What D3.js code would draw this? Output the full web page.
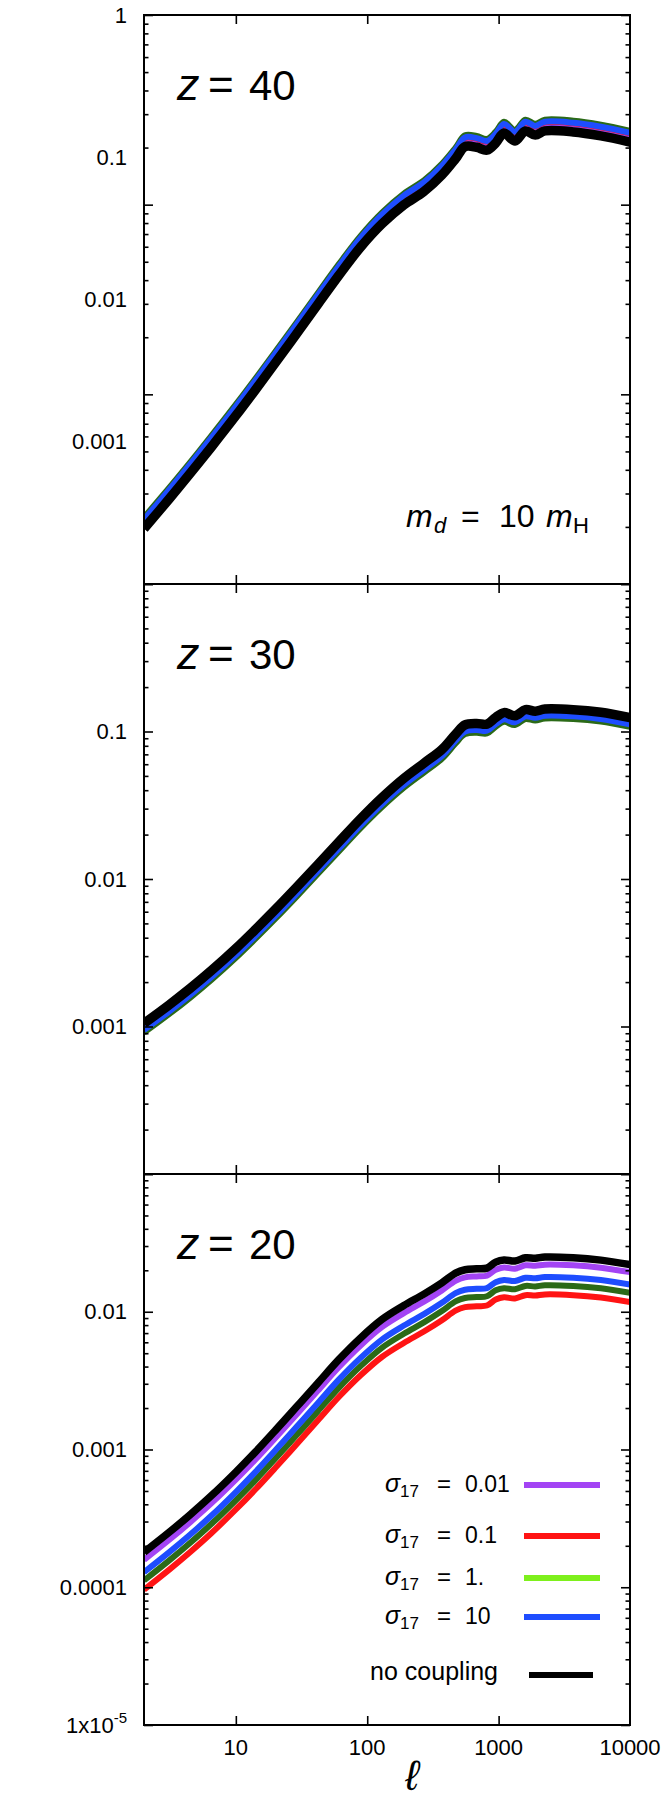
<!DOCTYPE html>
<html>
<head>
<meta charset="utf-8">
<script src="https://cdn.jsdelivr.net/npm/d3@7"></script>
<style>
  body { margin: 0; background: #fff; }
  svg { display: block; }
</style>
</head>
<body>
<svg id="chart" width="665" height="1804"></svg>
<script>
// multipole grid shared by all curves
const ell = [2, 3.1, 4.5, 6.5, 10, 14, 20, 29, 42, 61, 89, 130, 190, 270, 370, 470, 555, 680, 815, 950, 1100, 1330, 1600, 1900, 2250, 3700, 6000, 10000];

// z = 40
const z40Purple = [2.70e-4, 4.35e-4, 6.6e-4, 1.008e-3, 1.676e-3, 2.53e-3, 3.949e-3, 6.314e-3, 0.01015, 0.01631, 0.02566, 0.03753, 0.05086, 0.06314, 0.0825, 0.1073, 0.1308, 0.1293, 0.1234, 0.1385, 0.1627, 0.143, 0.1684, 0.1575, 0.1684, 0.1658, 0.1554, 0.1408];
const z40Red    = [2.82e-4, 4.54e-4, 6.9e-4, 1.053e-3, 1.753e-3, 2.645e-3, 4.129e-3, 6.601e-3, 0.01061, 0.01705, 0.02683, 0.03924, 0.05318, 0.06601, 0.08625, 0.1121, 0.1367, 0.1351, 0.129, 0.1448, 0.1701, 0.1495, 0.1761, 0.1647, 0.1761, 0.1733, 0.1625, 0.1472];
const z40Green  = [2.94e-4, 4.74e-4, 7.2e-4, 1.099e-3, 1.829e-3, 2.76e-3, 4.308e-3, 6.888e-3, 0.01108, 0.0178, 0.028, 0.04094, 0.05549, 0.06888, 0.09, 0.117, 0.1427, 0.141, 0.1346, 0.1511, 0.1775, 0.156, 0.1837, 0.1718, 0.1837, 0.1808, 0.1696, 0.1536];
const z40Blue   = [2.84e-4, 4.58e-4, 6.96e-4, 1.063e-3, 1.768e-3, 2.668e-3, 4.164e-3, 6.658e-3, 0.01071, 0.0172, 0.02706, 0.03958, 0.05364, 0.06658, 0.087, 0.1131, 0.1379, 0.1363, 0.1302, 0.146, 0.1716, 0.1508, 0.1776, 0.1661, 0.1776, 0.1748, 0.1639, 0.1485];
const z40Black  = [2.45e-4, 3.95e-4, 6.0e-4, 9.16e-4, 1.524e-3, 2.30e-3, 3.59e-3, 5.74e-3, 9.23e-3, 0.01483, 0.02333, 0.03412, 0.04624, 0.0574, 0.075, 0.0975, 0.1189, 0.1175, 0.1122, 0.1259, 0.1479, 0.130, 0.1531, 0.1432, 0.1531, 0.1507, 0.1413, 0.128];

// z = 30
const z30Purple = [9.77e-4, 1.302e-3, 1.689e-3, 2.223e-3, 3.143e-3, 4.204e-3, 5.785e-3, 8.175e-3, 0.01163, 0.01661, 0.0238, 0.0332, 0.04471, 0.05668, 0.07022, 0.08919, 0.1031, 0.1056, 0.1043, 0.1158, 0.1249, 0.1189, 0.1308, 0.1278, 0.132, 0.1308, 0.1255, 0.1155];
const z30Red    = [9.24e-4, 1.232e-3, 1.598e-3, 2.103e-3, 2.974e-3, 3.978e-3, 5.474e-3, 7.735e-3, 0.011, 0.01572, 0.02252, 0.03142, 0.04231, 0.05364, 0.06644, 0.08439, 0.09759, 0.09988, 0.09874, 0.1096, 0.1182, 0.1126, 0.1237, 0.1209, 0.1249, 0.1237, 0.1187, 0.1093];
const z30Green  = [9.08e-4, 1.211e-3, 1.571e-3, 2.067e-3, 2.924e-3, 3.91e-3, 5.38e-3, 7.6e-3, 0.01081, 0.01545, 0.02214, 0.03088, 0.04159, 0.05272, 0.06531, 0.08295, 0.09593, 0.09818, 0.09705, 0.1077, 0.1162, 0.1106, 0.1216, 0.1188, 0.1227, 0.1216, 0.1167, 0.1074];
const z30Blue   = [9.47e-4, 1.263e-3, 1.638e-3, 2.156e-3, 3.049e-3, 4.077e-3, 5.61e-3, 7.93e-3, 0.01128, 0.01611, 0.02308, 0.0322, 0.04337, 0.05498, 0.0681, 0.0865, 0.1, 0.1024, 0.1012, 0.1123, 0.1211, 0.1154, 0.1268, 0.1239, 0.128, 0.1268, 0.1217, 0.112];
const z30Black  = [1.05e-3, 1.40e-3, 1.816e-3, 2.39e-3, 3.38e-3, 4.52e-3, 6.22e-3, 8.79e-3, 0.0125, 0.01786, 0.02559, 0.0357, 0.04808, 0.06095, 0.0755, 0.0959, 0.1109, 0.1135, 0.1122, 0.1245, 0.1343, 0.1279, 0.1406, 0.1374, 0.1419, 0.1406, 0.1349, 0.1242];

// z = 20
const z20Purple = [1.581e-4, 2.203e-4, 2.969e-4, 4.061e-4, 6.044e-4, 8.396e-4, 1.213e-3, 1.797e-3, 2.669e-3, 3.973e-3, 5.691e-3, 7.762e-3, 9.77e-3, 0.01183, 0.01429, 0.01678, 0.01778, 0.01806, 0.01828, 0.02018, 0.02094, 0.02055, 0.02172, 0.02158, 0.02198, 0.02172, 0.02089, 0.01938];
const z20Red    = [9.6e-5, 1.338e-4, 1.803e-4, 2.466e-4, 3.67e-4, 5.099e-4, 7.367e-4, 1.091e-3, 1.621e-3, 2.413e-3, 3.456e-3, 4.713e-3, 5.933e-3, 7.185e-3, 8.678e-3, 0.01019, 0.0108, 0.01097, 0.0111, 0.01226, 0.01272, 0.01248, 0.01319, 0.0131, 0.01335, 0.01319, 0.01268, 0.01177];
const z20Green  = [1.12e-4, 1.56e-4, 2.103e-4, 2.877e-4, 4.281e-4, 5.947e-4, 8.59e-4, 1.273e-3, 1.891e-3, 2.814e-3, 4.031e-3, 5.497e-3, 6.92e-3, 8.38e-3, 0.01012, 0.01189, 0.01259, 0.01279, 0.01295, 0.0143, 0.01483, 0.01456, 0.01539, 0.01528, 0.01557, 0.01539, 0.0148, 0.01373];
const z20Blue   = [1.285e-4, 1.79e-4, 2.413e-4, 3.301e-4, 4.912e-4, 6.823e-4, 9.86e-4, 1.461e-3, 2.169e-3, 3.229e-3, 4.625e-3, 6.308e-3, 7.94e-3, 9.616e-3, 0.01161, 0.01364, 0.01445, 0.01468, 0.01486, 0.0164, 0.01702, 0.0167, 0.01766, 0.01753, 0.01786, 0.01766, 0.01698, 0.01575];
const z20Black  = [1.795e-4, 2.50e-4, 3.37e-4, 4.61e-4, 6.86e-4, 9.53e-4, 1.377e-3, 2.04e-3, 3.03e-3, 4.51e-3, 6.46e-3, 8.81e-3, 0.01109, 0.01343, 0.01622, 0.01905, 0.02018, 0.0205, 0.02075, 0.02291, 0.02377, 0.02333, 0.02466, 0.02449, 0.02495, 0.02466, 0.02371, 0.0220];

// tick labels
const xTickValues = [10, 100, 1000, 10000];
const yLabels40 = [1, 0.1, 0.01, 0.001];
const yLabels30 = [0.1, 0.01, 0.001];
const yLabels20 = [0.01, 0.001, 0.0001, 0.00001];
const legendLabels = ['0.01', '0.1', '1.', '10'];

const colors = { purple: '#a344f4', red: '#ff1414', green: '#2b6a17', blue: '#1e4dff', black: '#000' };
const legendColors = ['#a344f4', '#ff1414', '#7ef01c', '#1e4dff'];
const fontFamily = 'Liberation Sans, Arimo, DejaVu Sans, sans-serif';

const svg = d3.select('#chart');
const left = 144, right = 630;
const x = d3.scaleLog().domain([2, 10000]).range([left, right]);

const panels = [
  { top: 15, bottom: 584, domain: [1e-4, 1], tickDomain: [1e-3, 1], labels: yLabels40, z: '40', blackWidth: 9.5,
    series: [z40Purple, z40Red, z40Green, z40Blue, z40Black] },
  { top: 584, bottom: 1174, domain: [1e-4, 1], tickDomain: [1e-4, 1], labels: yLabels30, z: '30', blackWidth: 9.5,
    series: [z30Purple, z30Red, z30Green, z30Blue, z30Black] },
  { top: 1174, bottom: 1725, domain: [1e-5, 0.1], tickDomain: [1e-5, 0.1], labels: yLabels20, z: '20', blackWidth: 7.5,
    series: [z20Purple, z20Red, z20Green, z20Blue, z20Black] }
];
const seriesColors = [colors.purple, colors.red, colors.green, colors.blue, colors.black];

function isDecade(v) {
  const l = Math.log10(v);
  return Math.abs(l - Math.round(l)) < 1e-6;
}

function fmtY(v) {
  if (v >= 1) return '1';
  return v.toFixed(Math.round(-Math.log10(v)));
}

function addText(parent, px, py, size) {
  return parent.append('text')
    .attr('x', px).attr('y', py)
    .style('font-family', fontFamily)
    .attr('font-size', size)
    .attr('fill', '#000');
}

panels.forEach((p, i) => {
  const y = d3.scaleLog().domain(p.domain).range([p.bottom, p.top]);
  const yTick = d3.scaleLog().domain(p.tickDomain).range([p.bottom, p.top]);
  const g = svg.append('g');

  svg.append('clipPath').attr('id', 'clip' + i)
    .append('rect')
    .attr('x', left).attr('y', p.top)
    .attr('width', right - left).attr('height', p.bottom - p.top);

  // curves
  const line = d3.line()
    .x((d, j) => x(ell[j]))
    .y(d => y(d))
    .curve(d3.curveCatmullRom.alpha(0.5));

  p.series.forEach((vals, k) => {
    g.append('path')
      .datum(vals)
      .attr('clip-path', `url(#clip${i})`)
      .attr('fill', 'none')
      .attr('stroke', seriesColors[k])
      .attr('stroke-width', k === 4 ? p.blackWidth : 6)
      .attr('stroke-linejoin', 'round')
      .attr('d', line);
  });

  // ticks, pointing inwards on all four sides
  const all = yTick.ticks();
  const majors = all.filter(isDecade);
  const minors = all.filter(v => !isDecade(v));

  const tickAxis = (axis, pos, size, vals) => {
    g.append('g')
      .attr('transform', pos)
      .call(axis.tickValues(vals).tickSize(size).tickFormat(''))
      .call(s => s.select('.domain').remove())
      .selectAll('line').attr('stroke', '#000').attr('stroke-width', 1.6);
  };
  tickAxis(d3.axisLeft(yTick), `translate(${left},0)`, -9, majors);
  tickAxis(d3.axisLeft(yTick), `translate(${left},0)`, -4.5, minors);
  tickAxis(d3.axisRight(yTick), `translate(${right},0)`, -9, majors);
  tickAxis(d3.axisRight(yTick), `translate(${right},0)`, -4.5, minors);
  tickAxis(d3.axisBottom(x), `translate(0,${p.top})`, 9, [10, 100, 1000]);
  tickAxis(d3.axisTop(x), `translate(0,${p.bottom})`, 9, [10, 100, 1000]);

  // border
  g.append('rect')
    .attr('x', left).attr('y', p.top)
    .attr('width', right - left).attr('height', p.bottom - p.top)
    .attr('fill', 'none').attr('stroke', '#000').attr('stroke-width', 2);

  // y labels
  p.labels.forEach(v => {
    const t = addText(g, 127, y(v), 22)
      .attr('dy', '0.35em')
      .attr('text-anchor', 'end');
    if (v < 1e-4) {
      t.append('tspan').text('1x10');
      t.append('tspan').attr('font-size', 15).attr('dy', '-0.65em').text('-5');
    } else {
      t.text(fmtY(v));
    }
  });

  // redshift label
  const base = p.top + 85;
  addText(g, 177, base, 45).attr('font-style', 'italic').text('z');
  addText(g, 208, base, 44).text('=');
  addText(g, 249, base, 42).text(p.z);

  // x labels on the bottom panel
  if (i === panels.length - 1) {
    xTickValues.forEach(v => {
      addText(g, x(v), p.bottom + 30, 22)
        .attr('text-anchor', 'middle')
        .text(v);
    });
    addText(g, 412, 1790, 42)
      .attr('text-anchor', 'middle')
      .attr('font-style', 'italic')
      .text('ℓ');
  }
});

// m_d = 10 m_H
addText(svg, 406, 527, 32).attr('font-style', 'italic').text('m');
addText(svg, 434, 533, 22).attr('font-style', 'italic').text('d');
addText(svg, 461, 527, 32).text('=');
addText(svg, 499, 527, 32).text('10');
addText(svg, 546, 527, 32).attr('font-style', 'italic').text('m');
addText(svg, 573, 533, 22).text('H');

// legend
const legendY = [1485, 1536, 1578, 1617];
legendLabels.forEach((lab, k) => {
  const by = legendY[k] + 7;
  addText(svg, 385, by, 25).attr('font-style', 'italic').text('σ');
  addText(svg, 400, by + 5, 17).text('17');
  addText(svg, 437, by, 24).text('=');
  addText(svg, 465, by, 23).text(lab);
  svg.append('line')
    .attr('x1', 524).attr('x2', 600)
    .attr('y1', legendY[k]).attr('y2', legendY[k])
    .attr('stroke', legendColors[k]).attr('stroke-width', 6);
});
addText(svg, 498, 1680, 25).attr('text-anchor', 'end').text('no coupling');
svg.append('line')
  .attr('x1', 529).attr('x2', 593)
  .attr('y1', 1675).attr('y2', 1675)
  .attr('stroke', '#000').attr('stroke-width', 6);
</script>
</body>
</html>
